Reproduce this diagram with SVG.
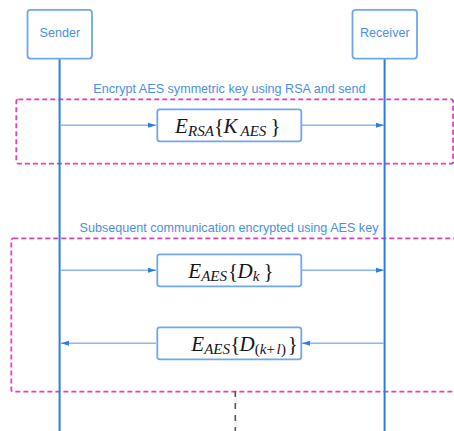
<svg xmlns="http://www.w3.org/2000/svg" width="454" height="431" viewBox="0 0 454 431">
  <style>
    .actor { fill: #ffffff; stroke: #6ea8ef; stroke-width: 1.8; }
    .actor-label { font-family: "Liberation Sans", Arial, sans-serif; font-size: 12.6px; fill: #4a8fe6; text-anchor: middle; }
    .lifeline { stroke: #2a7de1; stroke-width: 2; fill: none; }
    .frame { fill: none; stroke: #e63fbd; stroke-width: 1.8; stroke-dasharray: 5 3; }
    .frame-label { font-family: "Liberation Sans", Arial, sans-serif; font-size: 12.6px; fill: #4a8fe6; text-anchor: middle; }
    .msg-box { fill: #ffffff; stroke: #6ea8ef; stroke-width: 1.8; }
    .msg { stroke: #8ab8f1; stroke-width: 1.5; fill: none; }
    .math { font-family: "Liberation Serif", "Times New Roman", serif; font-size: 21px; fill: #151515; }
    .it { font-style: italic; }
    .sub { font-size: 15px; }
    .continue { stroke: #555555; stroke-width: 1.6; stroke-dasharray: 6 6; fill: none; }
  </style>
  <defs>
    <marker id="arrow" markerUnits="userSpaceOnUse" markerWidth="8" markerHeight="6" refX="8" refY="3" orient="auto">
      <path d="M0,0.5 L8,3 L0,5.5 z" fill="#2a7de1"/>
    </marker>
  </defs>

  <!-- combined fragments -->
  <g id="frames">
    <rect class="frame" x="16.3" y="99.3" width="436.8" height="64.4" rx="2"/>
    <text class="frame-label" x="229.5" y="93.4">Encrypt AES symmetric key using RSA and send</text>
    <rect class="frame" x="11.3" y="238.3" width="470" height="153.4" rx="2"/>
    <text class="frame-label" x="229" y="231.8">Subsequent communication encrypted using AES key</text>
  </g>

  <!-- lifelines and messages -->
  <g id="connectors">
    <line class="lifeline" x1="59.6" y1="59" x2="59.6" y2="431"/>
    <line class="lifeline" x1="384.6" y1="59" x2="384.6" y2="431"/>
    <line class="continue" x1="235.3" y1="391" x2="235.3" y2="431"/>

    <line class="msg" x1="60.5" y1="125.3" x2="156" y2="125.3" marker-end="url(#arrow)"/>
    <line class="msg" x1="302" y1="125.3" x2="384" y2="125.3" marker-end="url(#arrow)"/>

    <line class="msg" x1="60.5" y1="270.3" x2="156" y2="270.3" marker-end="url(#arrow)"/>
    <line class="msg" x1="302" y1="270.3" x2="384" y2="270.3" marker-end="url(#arrow)"/>

    <line class="msg" x1="384" y1="343.3" x2="302" y2="343.3" marker-end="url(#arrow)"/>
    <line class="msg" x1="156" y1="343.3" x2="61" y2="343.3" marker-end="url(#arrow)"/>
  </g>

  <g id="sender">
    <rect class="actor" x="27.5" y="9.8" width="64.5" height="48.8" rx="3"/>
    <text class="actor-label" x="59.8" y="37.3">Sender</text>
  </g>

  <g id="receiver">
    <rect class="actor" x="352.5" y="9.8" width="64.5" height="48.8" rx="3"/>
    <text class="actor-label" x="384.8" y="37.3">Receiver</text>
  </g>

  <g id="msg-rsa-key">
    <rect class="msg-box" x="157.3" y="109.3" width="144" height="32" rx="2.5"/>
    <text class="math" y="132.8"><tspan class="it" x="175">E</tspan><tspan class="it sub" x="188" dy="3">RSA</tspan><tspan x="214" dy="-3">{</tspan><tspan class="it" x="223.5">K</tspan><tspan class="it sub" x="240.5" dy="3">AES</tspan><tspan x="270.5" dy="-3">}</tspan></text>
  </g>

  <g id="msg-data-k">
    <rect class="msg-box" x="157.3" y="254.3" width="144" height="32" rx="2.5"/>
    <text class="math" y="277.8"><tspan class="it" x="188.2">E</tspan><tspan class="it sub" x="201.2" dy="3">AES</tspan><tspan x="228" dy="-3">{</tspan><tspan class="it" x="237.5">D</tspan><tspan class="it sub" x="252.8" dy="3">k</tspan><tspan x="263.5" dy="-3">}</tspan></text>
  </g>

  <g id="msg-data-kl">
    <rect class="msg-box" x="157.3" y="327.3" width="144" height="32" rx="2.5"/>
    <text class="math" y="350.8"><tspan class="it" x="191.3">E</tspan><tspan class="it sub" x="204.2" dy="3">AES</tspan><tspan x="230.2" dy="-3">{</tspan><tspan class="it" x="239.5">D</tspan><tspan class="sub" x="254.8" dy="3">(</tspan><tspan class="it sub" x="259.8">k</tspan><tspan class="sub" x="266.5">+</tspan><tspan class="it sub" x="276.6">l</tspan><tspan class="sub" x="281">)</tspan><tspan x="287.8" dy="-3">}</tspan></text>
  </g>
</svg>
